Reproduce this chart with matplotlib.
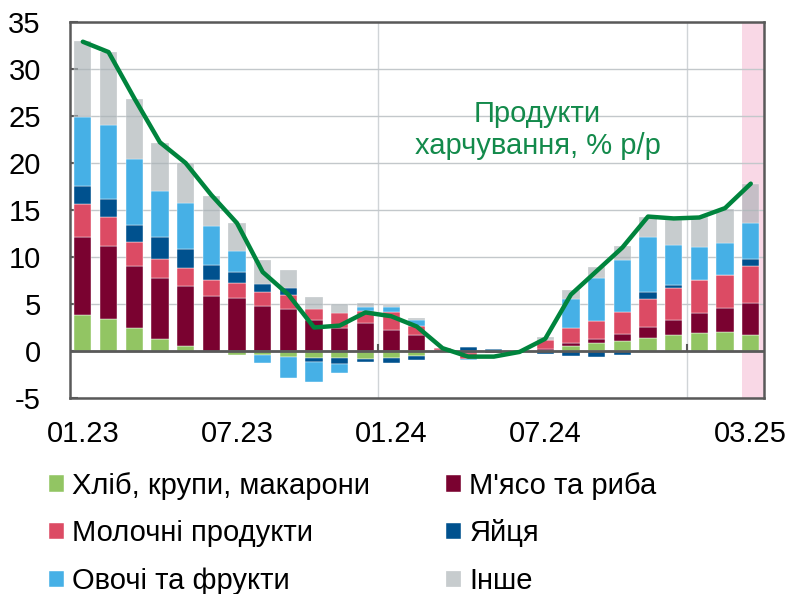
import numpy as np
import matplotlib
matplotlib.use('Agg')
import matplotlib.pyplot as plt

plt.rcParams['font.family'] = ['Liberation Sans', 'DejaVu Sans']
plt.rcParams['axes.unicode_minus'] = False

months = ['01.23', '02.23', '03.23', '04.23', '05.23', '06.23', '07.23', '08.23', '09.23',
          '10.23', '11.23', '12.23', '01.24', '02.24', '03.24', '04.24', '05.24', '06.24',
          '07.24', '08.24', '09.24', '10.24', '11.24', '12.24', '01.25', '02.25', '03.25']
tick_labels = {0: '01.23', 6: '07.23', 12: '01.24', 18: '07.24', 26: '03.25'}

# внески, в.п.
bread = [3.8, 3.35, 2.4, 1.25, 0.55, 0.0, -0.4, -0.4, -0.65, -0.7, -0.7, -0.85, -0.7, -0.5,
         0.0, 0.0, 0.0, 0.0, 0.0, 0.57, 0.82, 1.06, 1.42, 1.7, 1.95, 2.06, 1.7]
meat = [8.35, 7.85, 6.65, 6.55, 6.4, 5.8, 5.6, 4.8, 4.5, 3.25, 2.4, 2.95, 2.25, 1.65,
        0.1, -0.25, -0.25, 0.0, 0.2, 0.25, 0.42, 0.71, 1.17, 1.6, 2.13, 2.48, 3.37]
dairy = [3.5, 3.1, 2.5, 2.0, 1.85, 1.75, 1.65, 1.5, 1.5, 1.25, 1.65, 1.25, 1.85, 1.05,
         0.2, -0.6, 0.0, 0.0, 0.95, 1.66, 1.99, 2.41, 2.91, 3.44, 3.47, 3.55, 4.01]
eggs = [1.85, 1.85, 1.9, 2.35, 2.05, 1.55, 1.15, 0.8, 0.7, -0.5, -0.7, -0.35, -0.55, -0.45,
        0.0, 0.45, 0.25, 0.0, -0.35, -0.53, -0.6, -0.43, 0.81, 0.28, 0.0, 0.0, 0.71]
veg = [7.35, 7.9, 6.95, 4.85, 4.9, 4.15, 2.25, -0.9, -2.25, -2.05, -0.9, 0.45, 0.55, 0.6,
       -0.1, -0.1, 0.0, 0.0, 0.0, 3.05, 4.5, 5.5, 5.78, 4.26, 3.48, 3.43, 3.86]
other = [8.15, 7.75, 6.4, 5.15, 4.25, 3.25, 3.0, 2.55, 1.95, 1.25, 0.9, 0.45, 0.2, 0.2,
         0.0, 0.0, 0.0, 0.0, 0.3, 0.96, 1.24, 1.49, 2.13, 2.66, 3.19, 3.58, 4.12]
food_total = [32.9, 31.8, 26.9, 22.2, 20.0, 16.6, 13.6, 8.4, 6.0, 2.5, 2.7, 4.1, 3.7, 2.6,
              0.3, -0.6, -0.6, -0.1, 1.3, 6.0, 8.5, 11.0, 14.3, 14.1, 14.2, 15.2, 17.8]

series = [
    ('Хліб, крупи, макарони', bread, '#92C563', 1.0),
    ('М\'ясо та риба', meat, '#7A0230', 1.0),
    ('Молочні продукти', dairy, '#DC4B64', 1.0),
    ('Яйця', eggs, '#00518E', 1.0),
    ('Овочі та фрукти', veg, '#46B0E6', 1.0),
    ('Інше', other, '#A9B1B5', 0.65),
]

FS = 21

fig = plt.figure(figsize=(7.9, 5.94), dpi=100)
ax = fig.add_axes([0.0886, 0.330, 0.878, 0.633])

x = np.arange(len(months))
ax.axvspan(25.65, 26.5, color='#F9D8E6', zorder=0, lw=0)

pos = np.zeros(len(x))
neg = np.zeros(len(x))
handles = {}
for name, vals, col, a in series:
    v = np.array(vals)
    bottom = np.where(v >= 0, pos, neg)
    b = ax.bar(x, v, bottom=bottom, width=0.67, color=col, alpha=a,
               edgecolor='white', linewidth=0.3, zorder=2, label=name)
    handles[name] = b
    pos = pos + np.where(v >= 0, v, 0)
    neg = neg + np.where(v < 0, v, 0)

ax.plot(x, food_total, color='#00843D', lw=3.2, zorder=4, solid_capstyle='round')

ax.set_xlim(-0.5, 26.5)
ax.set_ylim(-5, 35)
ax.set_yticks(np.arange(-5, 36, 5))
ax.yaxis.grid(True, color='#C3C8CB', lw=1, zorder=1)
for xv in [11.5, 23.5]:
    ax.axvline(xv, color='#D0D4D7', lw=1, zorder=1)
    ax.plot([xv, xv], [0, 0.6], color='#595959', lw=1.5, zorder=3)
ax.axhline(0, color='#595959', lw=2, zorder=3)

ax.set_xticks(list(tick_labels.keys()))
ax.set_xticklabels(list(tick_labels.values()))
ax.tick_params(axis='x', length=0, pad=16, labelsize=FS)
ax.tick_params(axis='y', direction='in', length=6, width=1.5, color='#595959',
               labelsize=FS, pad=21)
for s in ax.spines.values():
    s.set_color('#595959')
    s.set_linewidth(1.8)

ax.text(17.7, 23.5, 'Продукти\nхарчування, % р/р', color='#138A4B', fontsize=FS,
        ha='center', va='center', linespacing=1.22, zorder=5)

order = ['Хліб, крупи, макарони', 'Молочні продукти', 'Овочі та фрукти',
         'М\'ясо та риба', 'Яйця', 'Інше']
leg = fig.legend([handles[n] for n in order], order, ncol=2, loc='upper left',
                 bbox_to_anchor=(0.062, 0.206), frameon=False, fontsize=FS,
                 handlelength=0.5, handleheight=0.5, handletextpad=0.3,
                 labelspacing=0.68, columnspacing=2.6, borderaxespad=0, borderpad=0)

fig.savefig('out.png', dpi=100)
